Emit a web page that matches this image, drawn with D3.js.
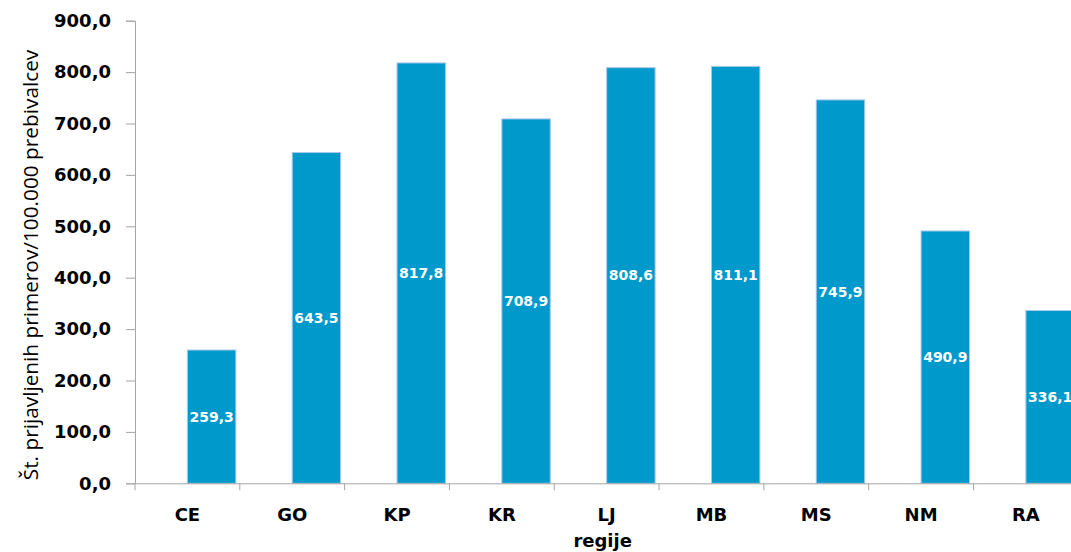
<!DOCTYPE html>
<html><head><meta charset="utf-8">
<script src="https://cdn.jsdelivr.net/npm/d3@7"></script>
<style>html,body{margin:0;padding:0;background:#fff;overflow:hidden}</style>
</head><body>
<svg id="c" width="1071" height="552"></svg>
<script>
const categories = ["CE","GO","KP","KR","LJ","MB","MS","NM","RA"];
const values = [259.3, 643.5, 817.8, 708.9, 808.6, 811.1, 745.9, 490.9, 336.1];
const yTicks = [0,100,200,300,400,500,600,700,800,900];
const yTitle = "Št. prijavljenih primerov/100.000 prebivalcev";
const xTitle = "regije";

const svg = d3.select("#c");
const mLeft = 135, mRight = 1078.3, mTop = 20.7, mBottom = 483.3;
const x = d3.scaleBand().domain(categories).range([mLeft, mRight]).padding(0);
const y = d3.scaleLinear().domain([0, 900]).range([mBottom, mTop]);
const fmt = d => d3.format(".1f")(d).replace(".", ",");
const axisColor = "#a6a6a6";
const barW = x.bandwidth() * 0.462;

// bars
svg.append("g").selectAll("rect").data(values).join("rect")
  .attr("x", (d,i) => x(categories[i]) + x.bandwidth()/2)
  .attr("y", d => y(d))
  .attr("width", barW)
  .attr("height", d => y(0) - y(d))
  .attr("fill", "#0099cc")
  .attr("stroke", "#a9c6ea")
  .attr("stroke-width", 1);

// bar labels
svg.append("g").selectAll("text").data(values).join("text")
  .attr("x", (d,i) => x(categories[i]) + x.bandwidth()/2 + barW/2)
  .attr("y", d => y(d/2))
  .attr("dy", "0.35em")
  .attr("text-anchor", "middle")
  .attr("fill", "#fff")
  .style("font-family", "DejaVu Sans")
  .style("font-weight", "bold")
  .style("font-size", "14px")
  .text(d => fmt(d));

// y axis
const ya = svg.append("g").attr("transform", `translate(${mLeft},0)`)
  .call(d3.axisLeft(y).tickValues(yTicks).tickFormat(fmt).tickSizeOuter(0).tickSize(9).tickPadding(15));
ya.select(".domain").attr("stroke", axisColor);
ya.selectAll(".tick line").attr("stroke", axisColor);
ya.selectAll(".tick text").attr("fill", "#000")
  .style("font-family", "DejaVu Sans").style("font-weight", "bold").style("font-size", "18px");

// x axis
const xa = svg.append("g").attr("transform", `translate(0,${mBottom})`)
  .call(d3.axisBottom(x).tickSize(0).tickSizeOuter(0).tickPadding(25));
xa.select(".domain").attr("stroke", axisColor);
xa.selectAll(".tick text").attr("fill", "#000")
  .style("font-family", "DejaVu Sans").style("font-weight", "bold").style("font-size", "18px");
// boundary ticks
xa.append("g").selectAll("line").data(categories.concat(["__end"])).join("line")
  .attr("x1", (d,i) => mLeft + i * x.step()).attr("x2", (d,i) => mLeft + i * x.step())
  .attr("y1", 0).attr("y2", 7).attr("stroke", axisColor);

// titles
svg.append("text")
  .attr("x", (mLeft + mRight) / 2 - 4).attr("y", 547)
  .attr("text-anchor", "middle")
  .style("font-family", "DejaVu Sans").style("font-weight", "bold").style("font-size", "18px")
  .text(xTitle);

svg.append("text")
  .attr("transform", "translate(38,265) rotate(-90)")
  .attr("text-anchor", "middle")
  .style("font-family", "Open Sans").style("font-size", "20.8px")
  .attr("fill", "#000")
  .text(yTitle);
</script>
</body></html>
